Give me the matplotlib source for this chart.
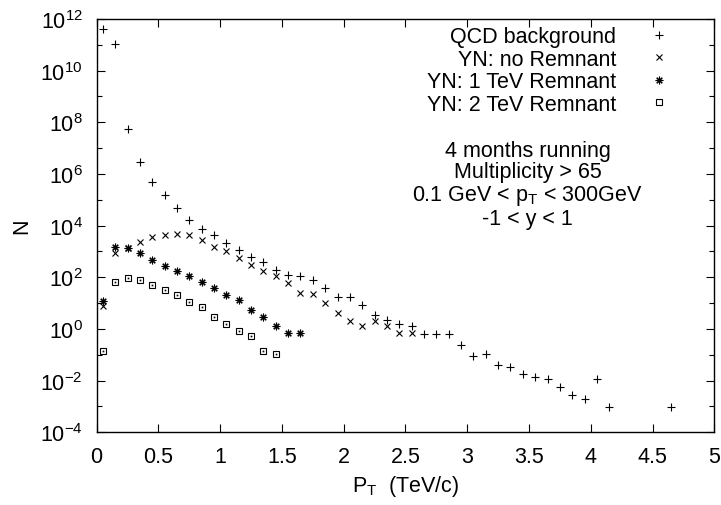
import numpy as np
import matplotlib
matplotlib.use("Agg")
import matplotlib.pyplot as plt
from matplotlib.ticker import FixedLocator, FuncFormatter

plt.rcParams['font.family'] = ['Liberation Sans', 'DejaVu Sans']
plt.rcParams['mathtext.fontset'] = 'custom'
plt.rcParams['mathtext.rm'] = 'Liberation Sans'
plt.rcParams['mathtext.it'] = 'Liberation Sans'

# bin centres (TeV/c) and log10(N)
qcd_pt = [0.05, 0.15, 0.25, 0.35, 0.45, 0.55, 0.65, 0.75, 0.85, 0.95,
          1.05, 1.15, 1.25, 1.35, 1.45, 1.55, 1.65, 1.75, 1.85, 1.95,
          2.05, 2.15, 2.25, 2.35, 2.45, 2.55, 2.65, 2.75, 2.85, 2.95,
          3.05, 3.15, 3.25, 3.35, 3.45, 3.55, 3.65, 3.75, 3.85, 3.95,
          4.05, 4.15, 4.65]
qcd_log = [11.6, 11.02, 7.75, 6.48, 5.69, 5.17, 4.69, 4.22, 3.88, 3.64,
           3.32, 3.04, 2.78, 2.58, 2.29, 2.08, 2.04, 1.91, 1.58, 1.25,
           1.25, 0.94, 0.55, 0.35, 0.18, 0.12, -0.19, -0.19, -0.19, -0.63,
           -1.03, -0.98, -1.38, -1.48, -1.74, -1.85, -1.94, -2.24, -2.55, -2.73,
           -1.94, -3.01, -3.01]

yn0_pt = [0.05, 0.15, 0.25, 0.35, 0.45, 0.55, 0.65, 0.75, 0.85, 0.95,
          1.05, 1.15, 1.25, 1.35, 1.45, 1.55, 1.65, 1.75, 1.85, 1.95,
          2.05, 2.15, 2.25, 2.35, 2.45, 2.55]
yn0_log = [0.88, 2.93, 3.14, 3.38, 3.55, 3.62, 3.66, 3.62, 3.45, 3.19,
           3.00, 2.74, 2.49, 2.24, 2.04, 1.77, 1.38, 1.36, 1.01, 0.61,
           0.32, 0.13, 0.32, 0.13, -0.17, -0.17]

yn1_pt = [0.05, 0.15, 0.25, 0.35, 0.45, 0.55, 0.65, 0.75, 0.85, 0.95,
          1.05, 1.15, 1.25, 1.35, 1.45, 1.55, 1.65]
yn1_log = [1.10, 3.19, 3.14, 2.93, 2.67, 2.45, 2.26, 2.04, 1.83, 1.59,
           1.33, 1.12, 0.74, 0.45, 0.13, -0.16, -0.16]

yn2_pt = [0.05, 0.15, 0.25, 0.35, 0.45, 0.55, 0.65, 0.75, 0.85, 0.95,
          1.05, 1.15, 1.25, 1.35, 1.45]
yn2_log = [-0.84, 1.83, 1.98, 1.89, 1.72, 1.51, 1.32, 1.03, 0.84, 0.47,
           0.19, -0.06, -0.26, -0.84, -0.97]

labels = ["QCD background", "YN: no Remnant", "YN: 1 TeV Remnant", "YN: 2 TeV Remnant"]
info_lines = ["4 months running", "Multiplicity > 65",
              "0.1 GeV < p$_\\mathregular{T}$ < 300GeV", "-1 < y < 1"]

FS = 15.5

fig = plt.figure(figsize=(7.21, 5.06), dpi=100)
ax = fig.add_axes([0.1341, 0.1437, 0.8566, 0.8168])

ax.plot(qcd_pt, 10 ** np.array(qcd_log), ls='none', marker='+', ms=5.5, mew=0.8,
        color='black', label=labels[0])
ax.plot(yn0_pt, 10 ** np.array(yn0_log), ls='none', marker='x', ms=5, mew=0.8,
        color='black', label=labels[1])
ax.plot(yn1_pt, 10 ** np.array(yn1_log), ls='none', marker=(8, 2, 0), ms=5.5, mew=0.8,
        color='black', label=labels[2])
ax.plot(yn2_pt, 10 ** np.array(yn2_log), ls='none', marker='s', ms=5, mew=0.8,
        mfc='none', color='black', label=labels[3])
ax.plot(yn2_pt, 10 ** np.array(yn2_log), ls='none', marker='s', ms=1.2, mew=0,
        color='black')

ax.set_yscale('log')
ax.set_xlim(0, 5)
ax.set_ylim(1e-4, 1e12)
ax.set_xticks(np.arange(0, 5.01, 0.5))
ax.xaxis.set_major_formatter(FuncFormatter(lambda v, p: f"{v:g}"))
ax.yaxis.set_major_locator(FixedLocator([10.0 ** k for k in range(-4, 13, 2)]))
ax.yaxis.set_minor_locator(FixedLocator([10.0 ** k for k in range(-3, 12, 2)]))
ax.yaxis.set_major_formatter(FuncFormatter(lambda v, p: "10$^{\\mathregular{%d}}$" % round(np.log10(v))))
ax.yaxis.set_minor_formatter(FuncFormatter(lambda v, p: ""))
ax.tick_params(which='both', direction='in', top=True, right=True, labelsize=FS, width=0.8)
ax.tick_params(which='major', length=6)
ax.tick_params(which='minor', length=3.5)
ax.tick_params(axis='x', pad=10)
ax.tick_params(axis='y', pad=10)
for s in ax.spines.values():
    s.set_linewidth(1.0)

ax.set_xlabel("P$_\\mathregular{T}$  (TeV/c)", fontsize=FS)
ax.xaxis.set_label_coords(0.5, -0.0985)
ax.set_ylabel("N", fontsize=FS)
ax.yaxis.set_label_coords(-0.105, 0.5)

ax.legend(loc='upper right', bbox_to_anchor=(0.935, 0.982), frameon=False,
          markerfirst=False, fontsize=FS, handlelength=1.4, handletextpad=1.3,
          labelspacing=0.07, borderpad=0, borderaxespad=0)

ax.text(0.698, 0.708, "\n".join(info_lines), transform=ax.transAxes,
        ha='center', va='top', multialignment='center', fontsize=FS,
        linespacing=1.05)

fig.savefig("out.png", dpi=100)
